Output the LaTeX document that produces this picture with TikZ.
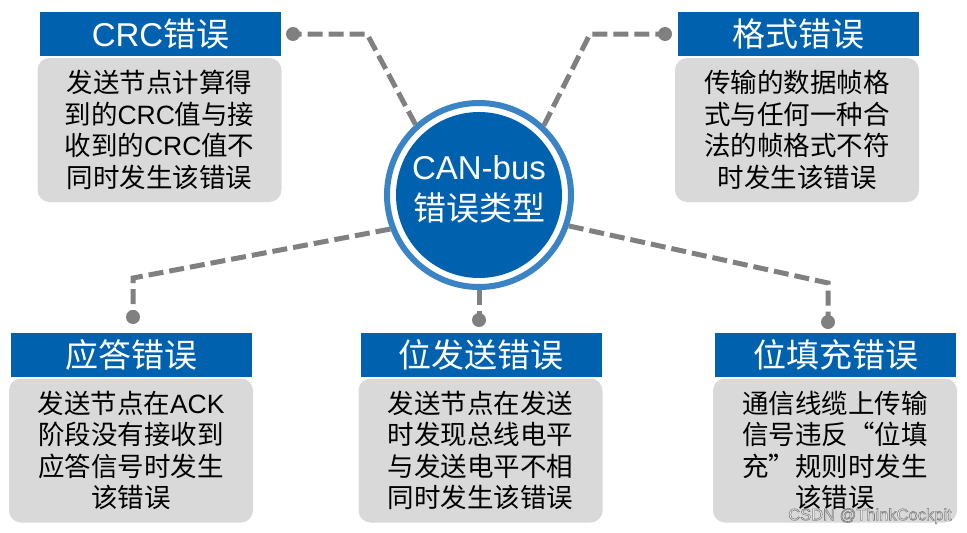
\documentclass[tikz,border=0pt]{standalone}
\usepackage{fontspec}
\setmainfont{Liberation Sans}
\newfontfamily\cjk{Noto Sans CJK SC}
\newcommand\zh[1]{{\cjk #1}}
\definecolor{hdrblue}{RGB}{0,97,175}
\definecolor{ringblue}{RGB}{58,132,198}
\definecolor{boxgray}{RGB}{217,217,217}
\definecolor{lnk}{RGB}{128,128,128}
\tikzset{
  hdr/.style={fill=hdrblue, text=white, minimum width=241pt, minimum height=44pt, inner sep=0pt, font=\fontsize{33}{36}\selectfont},
  bodybox/.style={fill=boxgray, rounded corners=12pt, minimum width=244pt, minimum height=144pt, inner sep=0pt, align=center, font=\fontsize{26.5}{31.5}\selectfont},
  conn/.style={draw=lnk, line width=5pt, dash pattern=on 15pt off 6pt},
  dotnode/.style={circle, fill=lnk, minimum size=14pt, inner sep=0pt},
  ringnode/.style={circle, draw=ringblue, line width=6pt, fill=white, minimum size=184pt, inner sep=0pt},
  discnode/.style={circle, fill=hdrblue, minimum size=166pt, inner sep=0pt},
  hubtxt/.style={text=white, align=center, inner sep=0pt, font=\fontsize{33}{41}\selectfont},
  wm/.style={text=white!92!gray, inner sep=0pt, font=\fontsize{16.5}{18}\selectfont}
}
\begin{document}
\begin{tikzpicture}[x=1pt,y=-1pt]
\useasboundingbox (0,0) rectangle (967,533);
% hub
\node[ringnode] (hub) at (479,195) {};
\node[discnode] (disc) at (479,195) {};
\node[hubtxt] (hubt) at (479,189.5) {CAN-bus\\\zh{错误类型}};
% headers
\node[hdr] (hcrc) at (160.5,34) {CRC\zh{错误}};
\node[hdr] (hfmt) at (798,34) {\zh{格式错误}};
\node[hdr] (hack) at (131.5,355) {\zh{应答错误}};
\node[hdr] (hsnd) at (481,355) {\zh{位发送错误}};
\node[hdr] (hstf) at (835.5,355) {\zh{位填充错误}};
% bodies
\node[bodybox] (bcrc) at (159.5,130) {\zh{发送节点计算得}\\\zh{到的}CRC\zh{值与接}\\\zh{收到的}CRC\zh{值不}\\\zh{同时发生该错误}};
\node[bodybox] (bfmt) at (797,130) {\zh{传输的数据帧格}\\\zh{式与任何一种合}\\\zh{法的帧格式不符}\\\zh{时发生该错误}};
\node[bodybox] (back) at (131,450.5) {\zh{发送节点在}ACK\\\zh{阶段没有接收到}\\\zh{应答信号时发生}\\\zh{该错误}};
\node[bodybox] (bsnd) at (480.5,450.5) {\zh{发送节点在发送}\\\zh{时发现总线电平}\\\zh{与发送电平不相}\\\zh{同时发生该错误}};
\node[bodybox] (bstf) at (835,450.5) {\zh{通信线缆上传输}\\\zh{信号违反“位填}\\\zh{充”规则时发生}\\\zh{该错误}};
% dots and corners
\node[dotnode] (dcrc) at (293,34) {};
\node[dotnode] (dfmt) at (665,34) {};
\node[dotnode] (dack) at (133,317) {};
\node[dotnode] (dsnd) at (479,320) {};
\node[dotnode] (dstf) at (828,322) {};
\coordinate (kcrc) at (367,34);
\coordinate (kfmt) at (590,34);
\coordinate (kack) at (133,278);
\coordinate (kstf) at (828,283);
% connectors
\draw[conn] (hub.132) -- (kcrc) -- (dcrc.center);
\draw[conn] (hub.47) -- (kfmt) -- (dfmt.center);
\draw[conn] (hub.201) -- (kack) -- (dack.center);
\draw[conn] (hub.-90) -- (dsnd.center);
\draw[conn] (hub.-19) -- (kstf) -- (dstf.center);
% watermark
\node[wm] (wmk) at (870,516) {\special{pdf:literal direct 0.5 G 0.6 w 2 Tr}CSDN @ThinkCockpit\special{pdf:literal direct 0 Tr}};
\end{tikzpicture}
\end{document}
